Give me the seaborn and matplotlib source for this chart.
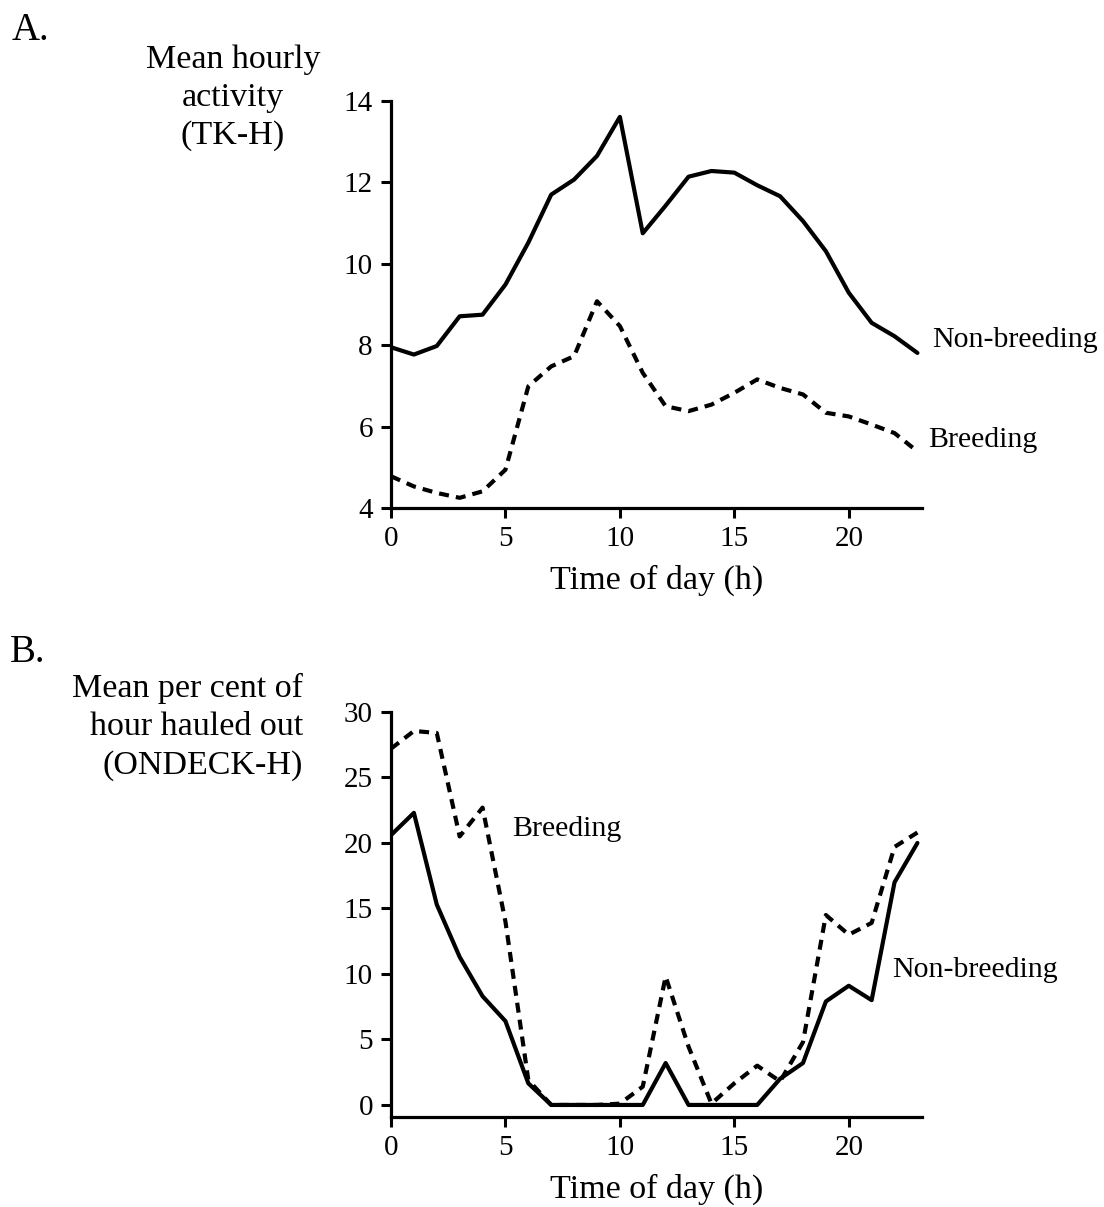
import matplotlib
matplotlib.use("Agg")
import matplotlib.pyplot as plt
import seaborn as sns
import numpy as np
import pandas as pd

hours = list(range(24))

# Panel A: mean hourly activity (TK-H)
activity_nonbreeding = [7.95, 7.77, 7.98, 8.71, 8.75, 9.49, 10.52, 11.70, 12.07, 12.65,
                        13.61, 10.75, 11.43, 12.14, 12.28, 12.24, 11.93, 11.66, 11.05, 10.31,
                        9.29, 8.55, 8.22, 7.81]
activity_breeding = [4.78, 4.53, 4.37, 4.25, 4.41, 4.94, 6.99, 7.48, 7.73, 9.08,
                     8.47, 7.32, 6.50, 6.38, 6.54, 6.83, 7.16, 6.95, 6.79, 6.34,
                     6.25, 6.05, 5.84, 5.39]

# Panel B: mean per cent of hour hauled out (ONDECK-H)
hauled_nonbreeding = [20.6, 22.3, 15.3, 11.3, 8.3, 6.4, 1.65, 0, 0, 0,
                      0, 0, 3.2, 0, 0, 0, 0, 2.0, 3.2, 7.9,
                      9.1, 8.0, 17.0, 20.0]
hauled_breeding = [27.2, 28.55, 28.4, 20.5, 22.7, 14.0, 1.9, 0, 0, 0,
                   0.1, 1.4, 9.8, 4.45, 0.1, 1.65, 3.0, 1.8, 4.8, 14.5,
                   13.0, 13.9, 19.7, 20.8]

x_ticks = [0, 5, 10, 15, 20]
a_ticks = [4, 6, 8, 10, 12, 14]
b_ticks = [0, 5, 10, 15, 20, 25, 30]

sns.set_style("ticks")
plt.rcParams["font.family"] = ["Liberation Serif", "DejaVu Serif"]
for key in ("text.color", "axes.labelcolor", "xtick.color", "ytick.color", "axes.edgecolor"):
    plt.rcParams[key] = "black"

W, H = 1104, 1207
fig = plt.figure(figsize=(W / 100, H / 100), dpi=100)


def px_axes(left, top, right, bottom):
    return fig.add_axes([left / W, 1 - bottom / H, (right - left) / W, (bottom - top) / H])


axA = px_axes(391, 101, 922, 508)
axB = px_axes(391, 712, 922, 1117)

dfA = pd.DataFrame({"hour": hours, "non": activity_nonbreeding, "br": activity_breeding})
dfB = pd.DataFrame({"hour": hours, "non": hauled_nonbreeding, "br": hauled_breeding})

line_kw = dict(color="black", linewidth=3.0)
dash = (0, (2.4, 1.7))

for ax, df in ((axA, dfA), (axB, dfB)):
    sns.lineplot(data=df, x="hour", y="non", ax=ax, linestyle="-", **line_kw)
    sns.lineplot(data=df, x="hour", y="br", ax=ax, linestyle=dash, **line_kw)
    ax.set_xlim(0, 23.2)
    ax.set_xticks(x_ticks)
    sns.despine(ax=ax)
    for s in ("left", "bottom"):
        ax.spines[s].set_linewidth(2.3)
    ax.tick_params(axis="both", direction="out", length=7, width=2.2,
                   labelsize=21, pad=6)
    ax.set_ylabel("")
    ax.set_xlabel("Time of day (h)", fontsize=24.5, labelpad=9)

axA.set_ylim(4, 14)
axA.set_yticks(a_ticks)
axB.set_ylim(-0.92, 30)
axB.set_yticks(b_ticks)

txt = dict(fontsize=21.5, va="center")
axA.text(23.65, 8.13, "Non-breeding", ha="left", **txt)
axA.text(23.45, 5.67, "Breeding", ha="left", **txt)
axB.text(5.3, 21.1, "Breeding", ha="left", **txt)
axB.text(21.9, 10.3, "Non-breeding", ha="left", **txt)

lab = dict(fontsize=24.5, va="center")
fig.text(12 / W, 1 - 30 / H, "A.", ha="left", fontsize=28, va="center")
fig.text(233 / W, 1 - 98 / H, "Mean hourly\nactivity\n(TK-H)", ha="center",
         multialignment="center", linespacing=1.32, **lab)
fig.text(10 / W, 1 - 652 / H, "B.", ha="left", fontsize=28, va="center")
fig.text(303 / W, 1 - 727 / H, "Mean per cent of\nhour hauled out\n(ONDECK-H)", ha="right",
         multialignment="right", linespacing=1.32, **lab)

fig.savefig("out.png", dpi=100)
